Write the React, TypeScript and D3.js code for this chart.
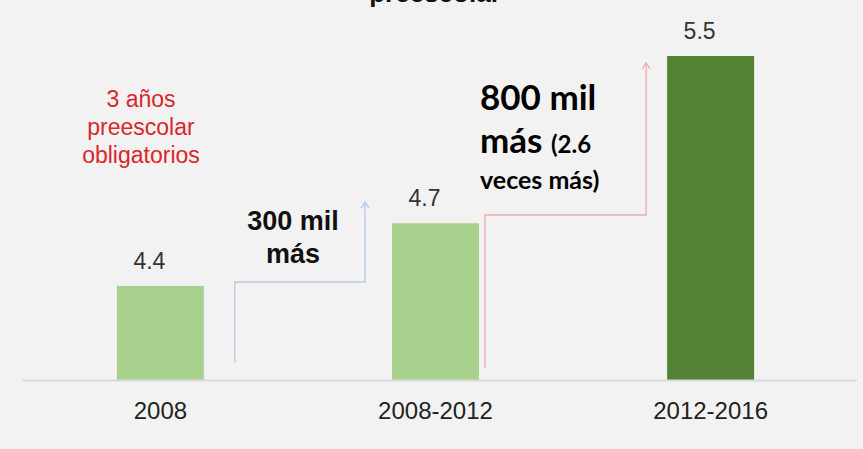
import React from "react";
import * as d3 from "d3";

const categories = ["2008", "2008-2012", "2012-2016"];
const values = [4.4, 4.7, 5.5];
const valueLabels = ["4.4", "4.7", "5.5"];
const barColors = ["#a9d18e", "#a9d18e", "#548235"];

const W = 863;
const H = 449;

const App: React.FC = () => {
  const x = d3
    .scaleBand<string>()
    .domain(categories)
    .range([22, 849])
    .paddingInner(0.684)
    .paddingOuter(0.345);

  const y = d3.scaleLinear().domain([3.95, 5.5]).range([380, 56]);

  const bw = x.bandwidth();
  const cx = (c: string) => (x(c) as number) + bw / 2;

  // step arrows between consecutive bars
  const x0 = cx(categories[0]);
  const x1 = cx(categories[1]);
  const x2 = cx(categories[2]);

  const blueStartX = x0 + bw / 2 + 31;
  const blueEndX = x1 - bw / 2 - 27;
  const blueEndY = y(values[1]) - 21;
  const bluePath = d3.path();
  bluePath.moveTo(blueStartX, 363);
  bluePath.lineTo(blueStartX, 282);
  bluePath.lineTo(blueEndX, 282);
  bluePath.lineTo(blueEndX, blueEndY);

  const redStartX = x1 + bw / 2 + 6;
  const redEndX = x2 - bw / 2 - 21;
  const redEndY = y(values[2]) + 7;
  const redPath = d3.path();
  redPath.moveTo(redStartX, 368);
  redPath.lineTo(redStartX, 215);
  redPath.lineTo(redEndX, 215);
  redPath.lineTo(redEndX, redEndY);

  const arrowHead = (px: number, py: number, color: string) => (
    <path
      d={`M${px - 4},${py + 6} L${px},${py} L${px + 4},${py + 6}`}
      fill="none"
      stroke={color}
      strokeWidth={1.3}
    />
  );

  return (
    <svg
      width={W}
      height={H}
      style={{ position: "absolute", left: 0, top: 0, background: "#f2f2f2" }}
      fontFamily="'Liberation Sans', Arial, sans-serif"
    >
      <rect width={W} height={H} fill="#f2f2f2" />
      {/* title, cut off at the top edge as in the source image */}
      <text x={435} y={2} textAnchor="middle" fontSize={26} fontWeight="bold" fill="#111">
        preescolar
      </text>

      {categories.map((c, i) => (
        <g key={c}>
          <rect
            x={x(c)}
            y={y(values[i])}
            width={bw}
            height={380 - y(values[i])}
            fill={barColors[i]}
          />
          <text
            x={cx(c) - 11}
            y={y(values[i]) - 17}
            textAnchor="middle"
            fontSize={23}
            fill="#333"
          >
            {valueLabels[i]}
          </text>
          <text x={cx(c)} y={419} textAnchor="middle" fontSize={24} fill="#222">
            {c}
          </text>
        </g>
      ))}

      <line x1={22} x2={857} y1={380.5} y2={380.5} stroke="#d9d9d9" strokeWidth={2} />

      <text textAnchor="middle" fontSize={23} fill="#d9262b">
        <tspan x={141} y={107}>3 años</tspan>
        <tspan x={141} y={135}>preescolar</tspan>
        <tspan x={141} y={163}>obligatorios</tspan>
      </text>

      <path d={bluePath.toString()} fill="none" stroke="#b4cbe4" strokeWidth={1.3} />
      {arrowHead(blueEndX, blueEndY, "#b4cbe4")}
      <path d={redPath.toString()} fill="none" stroke="#f2a8a8" strokeWidth={1.3} />
      {arrowHead(redEndX, redEndY, "#f2a8a8")}

      <text fontSize={27} fontWeight="bold" fill="#111" textAnchor="middle">
        <tspan x={293} y={230}>300 mil</tspan>
        <tspan x={293} y={263}>más</tspan>
      </text>

      <g fontFamily="Lato, 'Open Sans', sans-serif" fontWeight="bold" fill="#000">
        <text x={480} y={110} fontSize={35}>800 mil</text>
        <text x={480} y={153} fontSize={35}>
          más <tspan fontSize={24}>(2.6</tspan>
        </text>
        <text x={480} y={189} fontSize={25}>veces más)</text>
      </g>
    </svg>
  );
};

export default App;
